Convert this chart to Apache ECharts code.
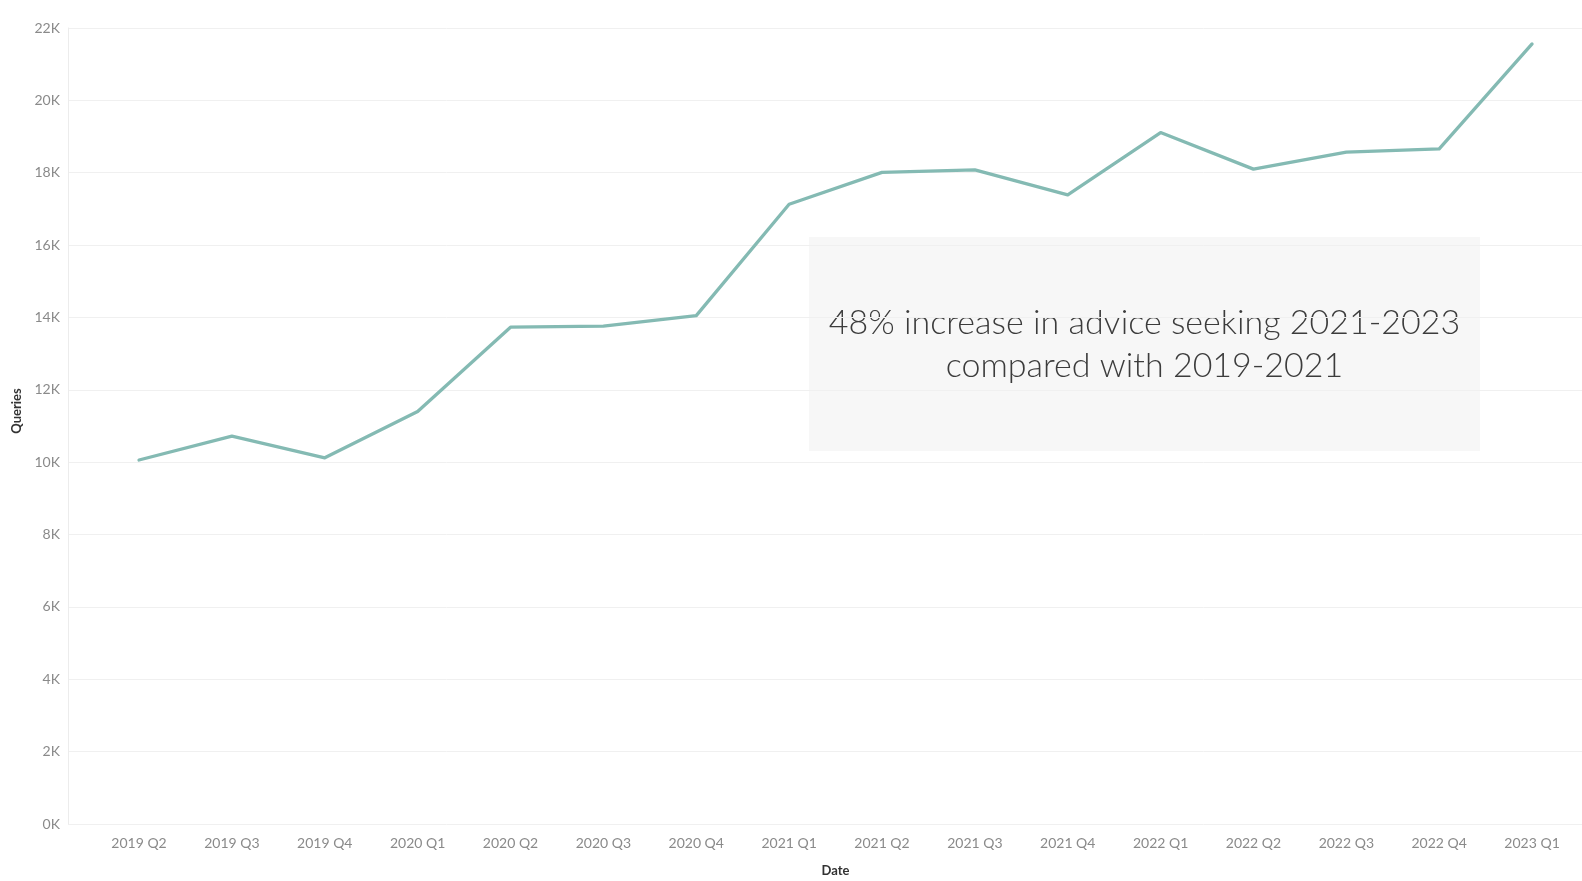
<!DOCTYPE html>
<html>
<head>
<meta charset="utf-8">
<title>Queries by quarter</title>
<script src="https://cdn.jsdelivr.net/npm/echarts@6/dist/echarts.min.js"></script>
<style>
  html, body { margin: 0; padding: 0; background: #ffffff; }
  #chart { width: 1582px; height: 881px; }
</style>
</head>
<body>
<div id="chart"></div>
<script>
// Quarterly query counts
const quarters = [
  '2019 Q2', '2019 Q3', '2019 Q4', '2020 Q1', '2020 Q2', '2020 Q3', '2020 Q4', '2021 Q1',
  '2021 Q2', '2021 Q3', '2021 Q4', '2022 Q1', '2022 Q2', '2022 Q3', '2022 Q4', '2023 Q1'
];
const queries = [
  10060, 10720, 10120, 11400, 13730, 13760, 14050, 17130,
  18010, 18080, 17390, 19110, 18100, 18570, 18660, 21560
];
const yTicks = { min: 0, max: 22000, step: 2000 };
const noteLines = ['48% increase in advice seeking 2021-2023', 'compared with 2019-2021'];
const yTitle = 'Queries';

const chart = echarts.init(document.getElementById('chart'), null, { renderer: 'canvas' });

const labelFont = 'Lato, "Open Sans", sans-serif';
const noteFont = '300 34px Lato, "Open Sans", sans-serif';
const plotTop = 28, plotBottom = 57;

chart.setOption({
  animation: false,
  backgroundColor: '#ffffff',
  textStyle: { fontFamily: labelFont },
  grid: [
    // frame for the value axis and its gridlines
    { left: 68, right: 0, top: plotTop, bottom: plotBottom, containLabel: false, outerBoundsMode: 'none' },
    // quarter bands holding the line
    { left: 92.6, right: 3.5, top: plotTop, bottom: plotBottom, containLabel: false, outerBoundsMode: 'none' }
  ],
  xAxis: [
    { gridIndex: 0, type: 'value', show: false, min: 0, max: 1 },
    {
      gridIndex: 1,
      type: 'category',
      data: quarters,
      boundaryGap: true,
      axisLine: { show: false },
      axisTick: { show: false },
      axisLabel: { color: '#8a8a8a', fontSize: 14, margin: 12, fontFamily: labelFont, interval: 0 },
      name: 'Date',
      nameLocation: 'middle',
      nameGap: 40,
      nameTextStyle: { color: '#333333', fontSize: 13, fontWeight: 'bold', fontFamily: labelFont }
    }
  ],
  yAxis: [
    {
      gridIndex: 0,
      type: 'value',
      min: yTicks.min,
      max: yTicks.max,
      interval: yTicks.step,
      axisLine: { show: true, lineStyle: { color: '#ececec', width: 1 } },
      axisTick: { show: false },
      splitLine: { show: true, lineStyle: { color: '#f0f0f0', width: 1 } },
      axisLabel: {
        color: '#8a8a8a', fontSize: 14, margin: 8, fontFamily: labelFont,
        formatter: v => (v / 1000) + 'K'
      }
    },
    {
      gridIndex: 1,
      type: 'value',
      min: yTicks.min,
      max: yTicks.max,
      interval: yTicks.step,
      show: false,
      splitLine: { show: false }
    }
  ],
  series: [
    {
      type: 'line',
      xAxisIndex: 1,
      yAxisIndex: 1,
      data: queries,
      symbol: 'none',
      lineStyle: { color: '#84bab3', width: 3.3, cap: 'round', join: 'round' },
      z: 3
    }
  ],
  graphic: [
    // vertical axis title
    {
      type: 'text',
      x: 17,
      y: 411,
      rotation: Math.PI / 2,
      style: {
        text: yTitle,
        fill: '#333333',
        font: 'bold 13px Lato, "Open Sans", sans-serif',
        textAlign: 'center',
        textVerticalAlign: 'middle'
      }
    },
    // annotation panel
    {
      type: 'group',
      left: 809,
      top: 237,
      z: 10,
      children: [
        {
          type: 'rect',
          shape: { x: 0, y: 0, width: 671, height: 214 },
          style: { fill: '#f7f7f7' }
        },
        {
          type: 'text',
          x: 335.5,
          y: 86,
          style: {
            text: noteLines[0],
            fill: '#3c3c3c',
            font: noteFont,
            textAlign: 'center',
            textVerticalAlign: 'middle'
          }
        },
        {
          type: 'text',
          x: 335.5,
          y: 129,
          style: {
            text: noteLines[1],
            fill: '#3c3c3c',
            font: noteFont,
            textAlign: 'center',
            textVerticalAlign: 'middle'
          }
        }
      ]
    }
  ]
});
</script>
</body>
</html>
